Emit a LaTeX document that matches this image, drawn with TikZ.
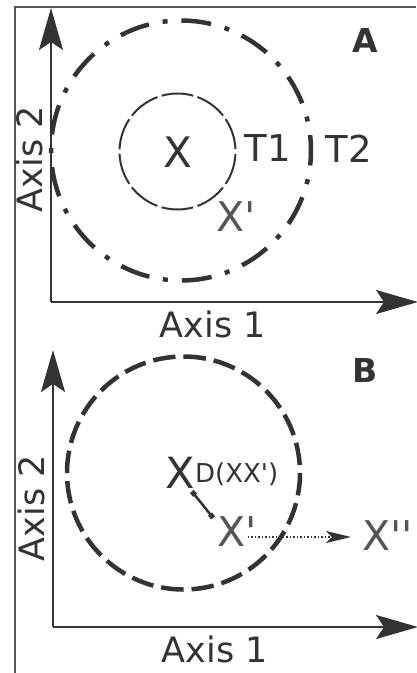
\documentclass[tikz,border=0pt]{standalone}
\usepackage{fontspec}
\setmainfont{DejaVu Sans}[Ligatures=TeXOff]
\usepackage{tikz}
\usetikzlibrary{arrows.meta, calc, positioning}

\definecolor{ink}{HTML}{333333}
\definecolor{inklight}{HTML}{555555}
\newcommand{\fsz}[1]{\fontsize{#1}{#1}\selectfont}

\tikzset{
  axis/.style={ink, line width=2pt, -{Stealth[length=42pt, width=24pt, inset=8pt]}},
  lbl/.style={inner sep=0pt, text=ink},
  axislbl/.style={lbl, font=\fsz{35}},
  panel/.style={lbl, font=\bfseries\fsz{33}},
}

\begin{document}
\begin{tikzpicture}[x=1pt, y=-1pt]
\useasboundingbox (0,0) rectangle (416,673);

% frame
\draw[inklight, line width=1.5pt] (15,673) -- (15,7) -- (416,7);

% panel A
\coordinate (oA) at (51,302);
\coordinate (yA) at (51,8);
\coordinate (xA) at (418,302);
\draw[axis] (oA) -- (yA);
\draw[axis] (oA) -- (xA);
\draw[ink, line width=4.5pt, dash pattern=on 30pt off 14pt on 5pt off 13.8pt, dash phase=15pt]
  (181,150.5) circle (130);
\draw[ink, line width=2pt, dash pattern=on 32pt off 4.4pt, dash phase=34pt]
  (177.5,151.5) circle (58);
\node[lbl, font=\fsz{42}] (xa) at (177.5,152.5) {X};
\node[lbl, font=\fsz{37}] (t1) at (267.5,148.5) {T1};
\node[lbl, font=\fsz{37}] (t2) at (349,148.5) {T2};
\node[lbl, font=\fsz{41}, text=inklight] (xpa) at (236.5,217) {X'};
\node[panel] (pa) at (365,40) {A};
\node[axislbl] (ax1a) at (213,324.5) {Axis 1};
\node[axislbl, rotate=90] (ax2a) at (29,159) {Axis 2};

% panel B
\coordinate (oB) at (53,627);
\coordinate (yB) at (53,350);
\coordinate (xB) at (418,627);
\draw[axis] (oB) -- (yB);
\draw[axis] (oB) -- (xB);
\draw[ink, line width=4.5pt, dash pattern=on 22.5pt off 8pt]
  (183.5,473) circle (116.5);
\node[lbl, font=\fsz{43}] (xb) at (180,472.5) {X};
\node[lbl, font=\fsz{26}, anchor=base west] (dxx) at (195,482.5) {D(XX')};
\node[lbl, font=\fsz{41}, text=inklight] (xpb) at (237,532) {X'};
\node[lbl, font=\fsz{41}, text=inklight, anchor=west] (xpp) at (362,536) {X''};
\node[panel] (pb) at (365,370) {B};
\node[axislbl] (ax1b) at (215,649.5) {Axis 1};
\node[axislbl, rotate=90] (ax2b) at (31,508) {Axis 2};

% distance between X and X'
\draw[ink, line width=2.5pt, {Square[length=5pt, width=5pt]}-{Square[length=5pt, width=5pt]}]
  ($(xb.south east)+(-3,3)$) -- ($(xpb.north west)+(-4,1)$);
\draw[ink, line width=1.5pt, dotted, -{Stealth[length=25pt, width=12pt, inset=6pt]}]
  ($(xpb.east)+(-9,5)$) -- ($(xpp.west)+(-11,1)$);
\end{tikzpicture}
\end{document}
